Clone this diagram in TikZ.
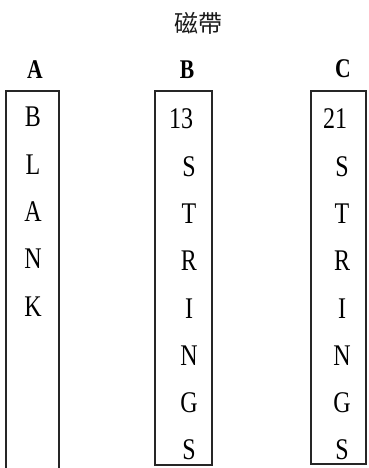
\documentclass[tikz,border=0pt]{standalone}
\usepackage{fontspec}
\setmainfont{Liberation Serif}[FakeStretch=0.8]
\newfontfamily\cjk{Noto Sans CJK TC}
\begin{document}
\begin{tikzpicture}[x=1pt,y=-1pt,
  tape/.style={line width=1.2pt, black!85},
  letter/.style={inner sep=0pt, font=\fontsize{30}{30}\selectfont, text=black},
  head/.style={inner sep=0pt, font=\fontsize{27}{27}\selectfont\bfseries},
  title/.style={inner sep=0pt, font=\cjk\fontsize{24}{24}\selectfont, text=black!90}]
\useasboundingbox (0,0) rectangle (369,468);
\clip (0,0) rectangle (369,468);
\node[title] (t) at (198,23) {磁帶};
\node[head] (hA) at (35,70) {A};
\node[head] (hB) at (187,70) {B};
\node[head] (hC) at (343,69) {C};
% tapes
\draw[tape] (6,472) -- (6,91) -- (59,91) -- (59,472);
\draw[tape] (155,91) rectangle (212,465);
\draw[tape] (311,91) rectangle (366,464);
% tape A
\foreach \l [count=\i from 0] in {B,L,A,N,K}
  \node[letter] (a\i) at (33,117+47.3*\i) {\l};
% tape B
\node[letter] (b0) at (181,119) {13};
\foreach \l [count=\i from 1] in {S,T,R,I,N,G,S}
  \node[letter] (b\i) at (189,119+47.3*\i) {\l};
% tape C
\node[letter] (c0) at (335,119) {21};
\foreach \l [count=\i from 1] in {S,T,R,I,N,G,S}
  \node[letter] (c\i) at (342,119+47.3*\i) {\l};
\end{tikzpicture}
\end{document}
